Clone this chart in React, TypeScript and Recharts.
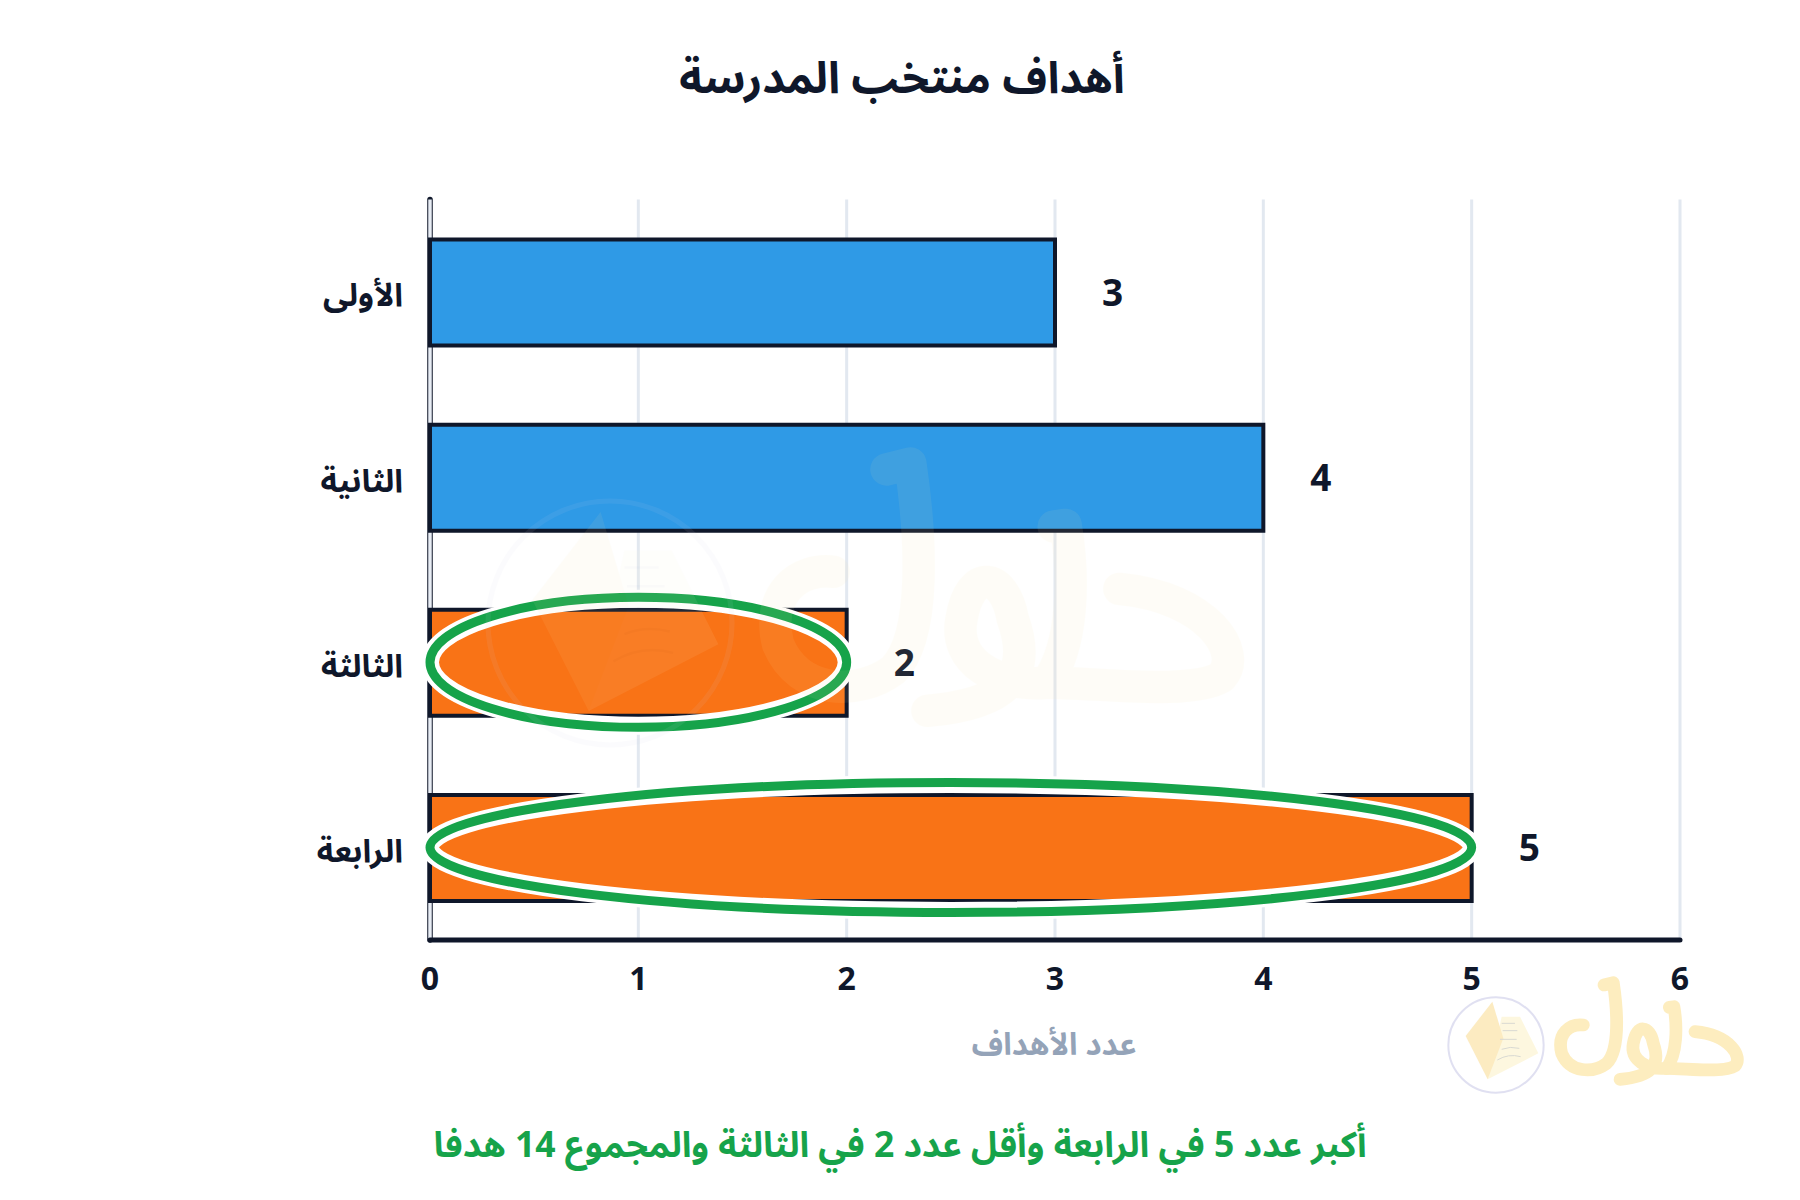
import React from 'react';
import { BarChart, Bar, XAxis, YAxis, CartesianGrid, Cell, LabelList, ReferenceArea, ReferenceLine } from 'recharts';

const rounds = ['الأولى', 'الثانية', 'الثالثة', 'الرابعة'];
const goals = [3, 4, 2, 5];
const barColors = ['#2f9ae6', '#2f9ae6', '#f97316', '#f97316'];
const xTicks = [0, 1, 2, 3, 4, 5, 6];
const titleText = 'أهداف منتخب المدرسة';
const xAxisTitle = 'عدد الأهداف';
const footerText = 'أكبر عدد 5 في الرابعة وأقل عدد 2 في الثالثة والمجموع 14 هدفا';
const highlights = [
  { round: 'الثالثة', from: 0, to: 2 },
  { round: 'الرابعة', from: 0, to: 5 },
];

const data = rounds.map((round, i) => ({ round, goals: goals[i] }));
const FONT = '"Noto Sans", "Noto Sans Arabic", "Noto Naskh Arabic", "Droid Arabic Naskh", "Open Sans", "DejaVu Sans", sans-serif';
const INK = '#0f172a';

const Ring = (props: any) => {
  const cx = props.x + props.width / 2;
  const cy = props.y + props.height / 2;
  const rx = props.width / 2;
  return (
    <g>
      <ellipse cx={cx} cy={cy} rx={rx} ry={63.5} fill="none" stroke="#ffffff" strokeWidth={18} />
      <ellipse cx={cx} cy={cy} rx={rx} ry={65} fill="none" stroke="#16a34a" strokeWidth={9} />
    </g>
  );
};

const Logo = ({ x, y, scale, opacity }: { x: number; y: number; scale: number; opacity: number }) => (
  <g transform={`translate(${x} ${y}) scale(${scale})`} opacity={opacity}>
    <g transform="scale(0.3333) translate(-228 -255)">
      <circle cx={228} cy={255} r={143} fill="none" stroke="#d4d4ec" strokeWidth={6} />
      <polygon points="245,170 300,170 355,280 203,358" fill="#fdf5d2" />
      <polygon points="217,125 137,228 203,358 250,235" fill="#fbe3a8" />
      <path d="M245 190 H285 M248 212 H292 M240 238 H290 M245 268 Q270 258 298 265 M232 300 Q265 280 302 290" fill="none" stroke="#c9c9c0" strokeWidth={3} />
      <g fill="none" stroke="#fde6a4" strokeWidth={38} strokeLinecap="round" strokeLinejoin="round">
        <path d="M825 215 C930 225 970 290 945 318 C910 340 800 325 740 325" />
        <path d="M748 142 L762 140 C772 200 772 280 740 325" />
        <path d="M600 358 C690 350 725 320 700 250 C690 195 650 190 640 250 C630 300 680 330 740 325" />
        <path d="M552 75 L580 68 C592 150 600 270 560 310 C520 340 450 340 425 280 C410 220 450 190 490 195" />
      </g>
    </g>
  </g>
);

export default function App() {
  return (
    <div style={{ position: 'absolute', left: 0, top: 0, width: 1800, height: 1200, background: '#fff', fontFamily: FONT }}>
      <div dir="rtl" style={{ position: 'absolute', left: 0, width: 1804, top: 46, textAlign: 'center', fontSize: 44, fontWeight: 700, color: INK, lineHeight: '60px' }}>{titleText}</div>
      <div style={{ position: 'absolute', left: 0, top: 0 }}>
        <BarChart
          width={1800}
          height={1200}
          data={data}
          layout="vertical"
          margin={{ top: 199.5, right: 120, bottom: 230, left: 300 }}
          barSize={106}
        >
          <CartesianGrid horizontal={false} stroke="#e2e8f0" strokeWidth={3} />
          <XAxis
            type="number"
            domain={[0, 6]}
            ticks={xTicks}
            interval={0}
            axisLine={{ stroke: INK, strokeWidth: 5, strokeLinecap: 'round' }}
            tickLine={false}
            tickMargin={21}
            tick={{ fill: INK, fontSize: 32, fontWeight: 700, fontFamily: FONT }}
          />
          <YAxis
            type="category"
            dataKey="round"
            width={130}
            zIndex={100}
            axisLine={{ stroke: INK, strokeWidth: 5.5, strokeLinecap: 'round' }}
            tickLine={false}
            tickMargin={21}
            tick={{ fill: INK, fontSize: 32, fontWeight: 700, fontFamily: FONT, dy: 3 }}
          />
          <ReferenceLine x={0} stroke="#e8edf4" strokeWidth={3.5} zIndex={150} ifOverflow="visible" />
          <Bar dataKey="goals" isAnimationActive={false} stroke={INK} strokeWidth={4}>
            {data.map((d, i) => (
              <Cell key={d.round} fill={barColors[i]} />
            ))}
            <LabelList dataKey="goals" position="right" offset={47} fill={INK} fontSize={37} fontWeight={700} fontFamily={FONT} />
          </Bar>
          {highlights.map((h) => (
            <ReferenceArea key={h.round} x1={h.from} x2={h.to} y1={h.round} y2={h.round} shape={Ring} zIndex={1500} ifOverflow="visible" />
          ))}
        </BarChart>
      </div>
      <div dir="rtl" style={{ position: 'absolute', left: 954, width: 200, top: 1022, textAlign: 'center', fontSize: 31, fontWeight: 700, color: '#94a3b8', lineHeight: '42px' }}>{xAxisTitle}</div>
      <div dir="rtl" style={{ position: 'absolute', left: 300, width: 1200, top: 1118, textAlign: 'center', fontSize: 35.5, fontWeight: 700, color: '#16a34a', lineHeight: '50px' }}>{footerText}</div>
      <svg width={1800} height={1200} style={{ position: 'absolute', left: 0, top: 0, pointerEvents: 'none' }}>
        <Logo x={610} y={623} scale={2.56} opacity={0.08} />
        <Logo x={1496} y={1045} scale={1} opacity={0.7} />
      </svg>
    </div>
  );
}
